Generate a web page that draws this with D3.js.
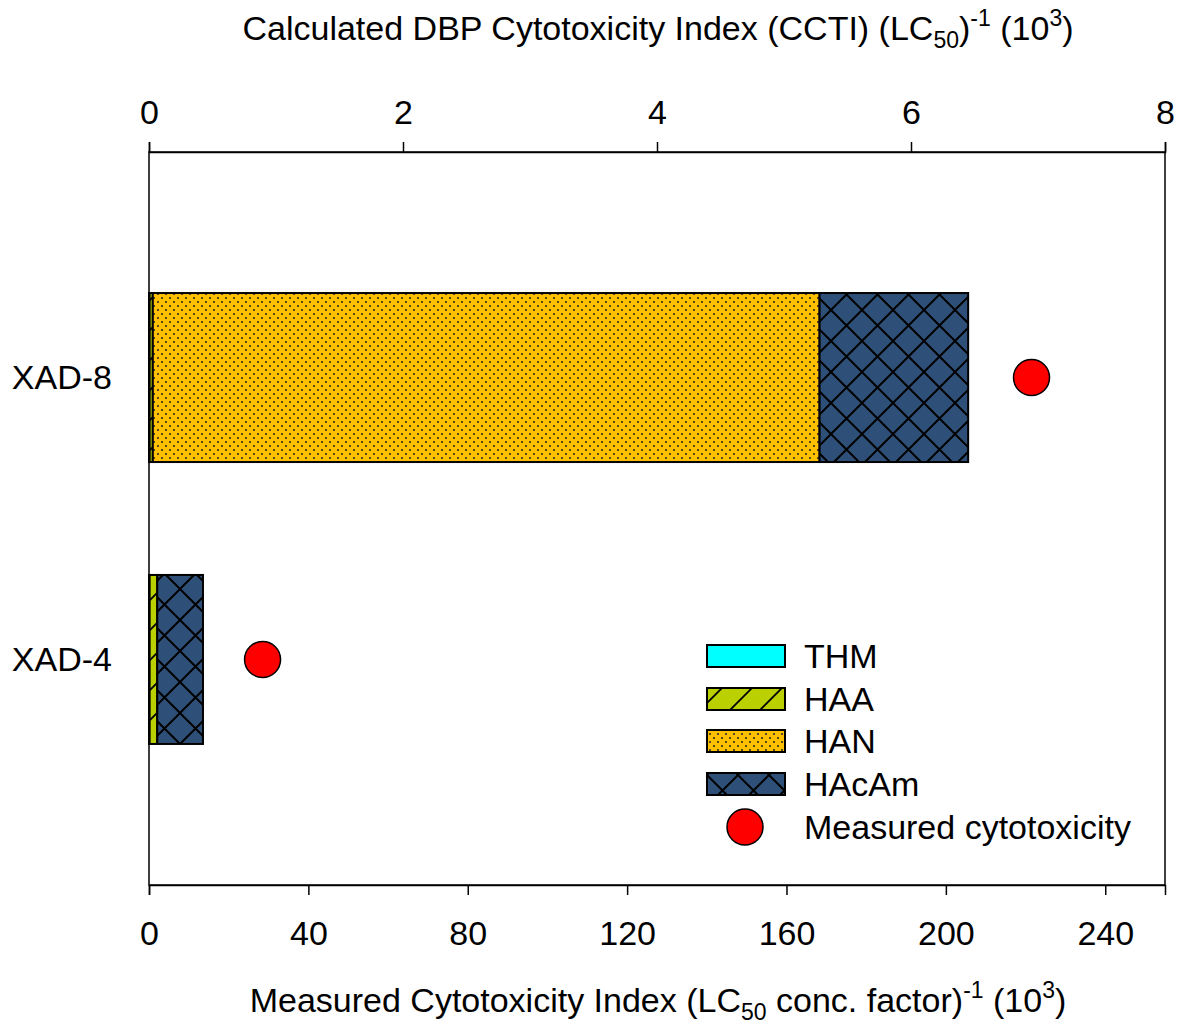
<!DOCTYPE html>
<html><head><meta charset="utf-8">
<script src="https://cdn.jsdelivr.net/npm/d3@7"></script>
<style>body{margin:0;background:#fff}svg{display:block;font-family:"Liberation Sans",Arial,sans-serif}</style>
</head><body>
<svg id="c" width="1183" height="1026"></svg>
<script>
const categories = ["XAD-8", "XAD-4"];
const seriesNames = ["THM", "HAA", "HAN", "HAcAm"];
const thmValues = [0.005, 0.005];
const haaValues = [0.025, 0.06];
const hanValues = [5.25, 0.0];
const hacamValues = [1.17, 0.36];
const measuredValues = [221.5, 28.5];
const topTicks = [0, 2, 4, 6, 8];
const bottomTicks = [0, 40, 80, 120, 160, 200, 240];

const svg = d3.select("#c");
const L = 149, R = 1165, T = 152, B = 885;
const xTop = d3.scaleLinear().domain([0, 8]).range([L, R]);
const xBot = d3.scaleLinear().domain([0, 255]).range([L, R]);
const y = d3.scalePoint().domain(categories).range([T, B]).padding(0.8);
const barH = 169;

const colors = {THM: "#00FFFF", HAA: "#BBD000", HAN: "#FFC000", HAcAm: "#2E5078"};
const defs = svg.append("defs");
// HAA slashes
let p = defs.append("pattern").attr("id", "p-HAA").attr("patternUnits", "userSpaceOnUse").attr("width", 30).attr("height", 30);
p.append("rect").attr("width", 30).attr("height", 30).attr("fill", colors.HAA);
p.append("path").attr("d", "M-5,35 L35,-5 M-20,20 L20,-20 M10,50 L50,10").attr("stroke", "#000").attr("stroke-width", 1.8);
// HAN dots
p = defs.append("pattern").attr("id", "p-HAN").attr("patternUnits", "userSpaceOnUse").attr("width", 8).attr("height", 8);
p.append("rect").attr("width", 8).attr("height", 8).attr("fill", colors.HAN);
p.append("circle").attr("cx", 2).attr("cy", 2).attr("r", 1).attr("fill", "#222");
p.append("circle").attr("cx", 6).attr("cy", 6).attr("r", 1).attr("fill", "#222");
// HAcAm crosshatch
p = defs.append("pattern").attr("id", "p-HAcAm").attr("patternUnits", "userSpaceOnUse").attr("width", 31).attr("height", 31).attr("x", L).attr("y", 0);
p.append("rect").attr("width", 31).attr("height", 31).attr("fill", colors.HAcAm);
p.append("path").attr("d", "M-5,-5 L36,36 M-5,36 L36,-5").attr("stroke", "#000").attr("stroke-width", 2);
const fills = {THM: colors.THM, HAA: "url(#p-HAA)", HAN: "url(#p-HAN)", HAcAm: "url(#p-HAcAm)"};

const rows = categories.map((c, i) => ({cat: c, THM: thmValues[i], HAA: haaValues[i], HAN: hanValues[i], HAcAm: hacamValues[i]}));
const stack = d3.stack().keys(seriesNames)(rows);

svg.append("rect").attr("x", L).attr("y", T).attr("width", R - L).attr("height", B - T).attr("fill", "none").attr("stroke", "#000").attr("stroke-width", 1.5);

stack.forEach(layer => {
  svg.append("g").selectAll("rect").data(layer).join("rect")
    .attr("x", d => xTop(d[0]))
    .attr("width", d => Math.max(0, xTop(d[1]) - xTop(d[0])))
    .attr("y", d => y(d.data.cat) - barH / 2)
    .attr("height", barH)
    .attr("fill", fills[layer.key])
    .attr("stroke", "#000").attr("stroke-width", 2)
    .attr("display", d => (d[1] - d[0]) > 0 ? null : "none");
});

svg.append("g").selectAll("circle").data(measuredValues).join("circle")
  .attr("cx", d => xBot(d)).attr("cy", (d, i) => y(categories[i]))
  .attr("r", 18).attr("fill", "#FF0000").attr("stroke", "#000").attr("stroke-width", 1.5);

const fs = "34px";
const gTop = svg.append("g").attr("transform", `translate(0,${T})`)
  .call(d3.axisTop(xTop).tickValues(topTicks).tickSize(10).tickPadding(18).tickFormat(d3.format("d")));
const gBot = svg.append("g").attr("transform", `translate(0,${B})`)
  .call(d3.axisBottom(xBot).tickValues(bottomTicks).tickSize(10).tickPadding(26).tickFormat(d3.format("d")));
[gTop, gBot].forEach(g => {
  g.select(".domain").attr("stroke-width", 1.5);
  g.selectAll(".tick line").attr("stroke-width", 1.5);
  g.selectAll("text").attr("font-size", fs).attr("font-family", "Liberation Sans, Arial, sans-serif").attr("fill", "#000");
});
const gLeft = svg.append("g").attr("transform", `translate(${L},0)`)
  .call(d3.axisLeft(y).tickSize(0).tickPadding(37));
gLeft.select(".domain").remove();
gLeft.selectAll("text").attr("font-size", fs).attr("font-family", "Liberation Sans, Arial, sans-serif").attr("fill", "#000");

function title(yPos, parts) {
  const t = svg.append("text").attr("x", (L + R) / 2 + 1).attr("y", yPos).attr("text-anchor", "middle").attr("font-size", "34px").attr("fill", "#000");
  parts.forEach(([s, type]) => {
    const ts = t.append("tspan").text(s);
    if (type === "sub") ts.attr("font-size", "23px").attr("baseline-shift", "-35%");
    if (type === "sup") ts.attr("font-size", "23px").attr("baseline-shift", "60%");
  });
}
title(40, [["Calculated DBP Cytotoxicity Index (CCTI) (LC", ""], ["50", "sub"], [")", ""], ["-1", "sup"], [" (10", ""], ["3", "sup"], [")", ""]]);
title(1012, [["Measured Cytotoxicity Index (LC", ""], ["50", "sub"], [" conc. factor)", ""], ["-1", "sup"], [" (10", ""], ["3", "sup"], [")", ""]]);

const lg = svg.append("g");
const legY = [656, 699, 741, 784];
seriesNames.forEach((s, i) => {
  lg.append("rect").attr("x", 707).attr("y", legY[i] - 11).attr("width", 78).attr("height", 22)
    .attr("fill", fills[s]).attr("stroke", "#000").attr("stroke-width", 2);
  lg.append("text").attr("x", 804).attr("y", legY[i] + 12).attr("font-size", fs).text(s);
});
lg.append("circle").attr("cx", 745).attr("cy", 827).attr("r", 18).attr("fill", "#FF0000").attr("stroke", "#000").attr("stroke-width", 1.5);
lg.append("text").attr("x", 804).attr("y", 839).attr("font-size", fs).text("Measured cytotoxicity");
</script>
</body></html>
